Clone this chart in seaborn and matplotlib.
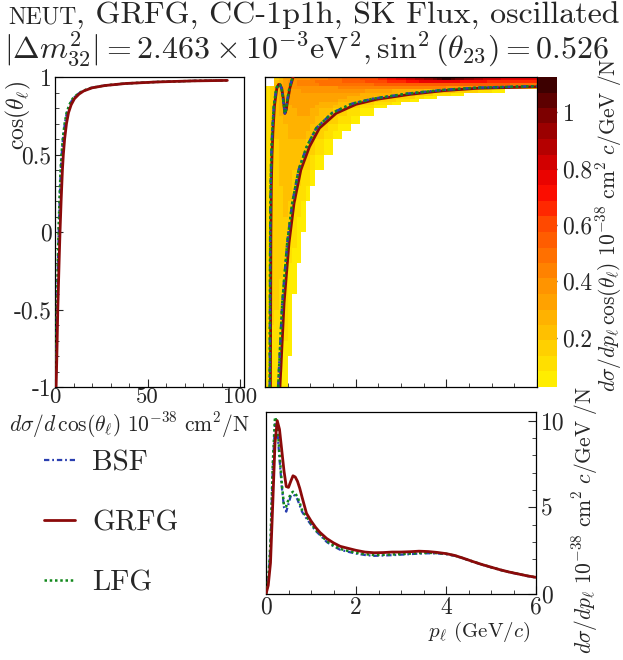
import numpy as np
import matplotlib
matplotlib.use("Agg")
import matplotlib.pyplot as plt
from matplotlib.colors import LinearSegmentedColormap, ListedColormap
from matplotlib.ticker import MultipleLocator
import seaborn as sns

# ---------------- values ----------------
# left panel: d sigma / d cos(theta) vs cos(theta)
cos_left = [-1.0, -0.8, -0.5, -0.2, 0.0, 0.2, 0.4, 0.5, 0.6, 0.7, 0.77, 0.82,
            0.86, 0.89, 0.91, 0.93, 0.945, 0.958, 0.968, 0.975, 0.978]
grfg_left = [0.6, 1.0, 1.5, 2.2, 2.7, 3.3, 4.0, 4.5, 5.2, 6.2, 7.3, 8.7,
             10.5, 13.0, 15.5, 20.0, 27.0, 38.0, 55.0, 75.0, 93.0]
bsf_left = [0.4, 0.7, 1.1, 1.6, 2.0, 2.5, 3.1, 3.6, 4.3, 5.3, 6.4, 7.8,
            9.6, 12.3, 15.0, 19.6, 26.7, 37.7, 54.7, 74.7, 92.8]
lfg_left = [0.3, 0.6, 1.0, 1.5, 1.9, 2.4, 3.0, 3.5, 4.2, 5.2, 6.3, 7.7,
            9.5, 12.2, 14.9, 19.5, 26.5, 37.5, 54.5, 74.5, 92.6]

# bottom panel: d sigma / d p vs p
p_mom = [0, 0.05, 0.1, 0.15, 0.2, 0.25, 0.3, 0.35, 0.4, 0.45, 0.5, 0.55, 0.6,
         0.65, 0.7, 0.75, 0.8, 0.9, 1.0, 1.1, 1.2, 1.35, 1.5, 1.65, 1.8, 2.0,
         2.2, 2.4, 2.6, 2.8, 3.0, 3.2, 3.4, 3.6, 3.8, 4.0, 4.2, 4.4, 4.6, 4.8,
         5.0, 5.2, 5.4, 5.6, 5.8, 6.0]
grfg_p = [0.0, 0.5, 1.8, 5.2, 8.7, 10.0, 9.5, 8.3, 7.1, 6.2, 6.15, 6.5, 6.82,
          6.75, 6.5, 6.1, 5.6, 4.65, 4.22, 3.85, 3.55, 3.2, 2.95, 2.75, 2.65,
          2.52, 2.42, 2.38, 2.39, 2.42, 2.42, 2.44, 2.47, 2.45, 2.4, 2.33,
          2.22, 2.05, 1.87, 1.7, 1.55, 1.4, 1.27, 1.16, 1.05, 0.96]
bsf_p = [0.0, 0.7, 2.8, 7.2, 9.8, 9.5, 7.8, 6.2, 5.0, 4.75, 5.2, 5.65, 5.75,
         5.65, 5.45, 5.1, 4.75, 4.35, 4.0, 3.65, 3.4, 3.0, 2.75, 2.55, 2.45,
         2.33, 2.25, 2.2, 2.22, 2.24, 2.27, 2.3, 2.33, 2.35, 2.34, 2.3, 2.2,
         2.04, 1.86, 1.69, 1.54, 1.39, 1.26, 1.15, 1.04, 0.95]
lfg_p = [0.0, 0.8, 3.0, 7.5, 10.2, 9.9, 8.1, 6.4, 5.1, 5.05, 5.45, 5.8, 5.9,
         5.8, 5.6, 5.25, 4.85, 4.45, 4.08, 3.7, 3.45, 3.05, 2.8, 2.6, 2.5,
         2.38, 2.3, 2.25, 2.26, 2.28, 2.3, 2.33, 2.36, 2.38, 2.36, 2.32, 2.21,
         2.05, 1.87, 1.7, 1.55, 1.4, 1.27, 1.16, 1.05, 0.96]

# ridge curves drawn on the 2D map (p, cos)
grfg_ridgeA_p = [0.12, 0.125, 0.13, 0.14, 0.155, 0.175, 0.21, 0.26, 0.30, 0.335,
                 0.37, 0.40, 0.44, 0.47, 0.50, 0.55, 0.60, 0.62]
grfg_ridgeA_c = [-1.0, -0.5, 0.0, 0.3, 0.5, 0.65, 0.817, 0.926, 0.952, 0.95,
                 0.925, 0.87, 0.765, 0.79, 0.85, 0.93, 0.98, 1.0]
bsf_ridgeA_p = [0.105, 0.11, 0.115, 0.125, 0.14, 0.16, 0.195, 0.25, 0.29, 0.33,
                0.365, 0.395, 0.435, 0.465, 0.49, 0.54, 0.59, 0.61]
bsf_ridgeA_c = grfg_ridgeA_c
lfg_ridgeA_p = bsf_ridgeA_p
lfg_ridgeA_c = grfg_ridgeA_c

grfg_ridgeB_p = [0.33, 0.42, 0.53, 0.64, 0.79, 0.98, 1.2, 1.57, 2.01, 2.46,
                 3.2, 3.94, 4.68, 6.0]
grfg_ridgeB_c = [-1.0, -0.46, -0.07, 0.185, 0.40, 0.55, 0.67, 0.766, 0.824,
                 0.856, 0.888, 0.912, 0.927, 0.937]
bsf_ridgeB_p = [0.29, 0.38, 0.49, 0.60, 0.74, 0.92, 1.13, 1.48, 1.92, 2.38,
                3.12, 3.9, 4.68, 6.0]
bsf_ridgeB_c = [-1.0, -0.46, -0.07, 0.185, 0.40, 0.55, 0.67, 0.768, 0.828,
                0.86, 0.892, 0.916, 0.931, 0.941]
lfg_ridgeB_p = bsf_ridgeB_p
lfg_ridgeB_c = bsf_ridgeB_c

# 2D map: rows of colour levels (1..20, '.' = empty), bottom row first,
# one character per 0.1 GeV/c bin in p
p_edges = np.linspace(0, 6, 61)
cos_edges = [-1.0, -0.9, -0.8, -0.7, -0.6, -0.5, -0.4, -0.3, -0.2, -0.1, 0.0,
             0.1, 0.2, 0.3, 0.4, 0.5, 0.6, 0.65, 0.7, 0.75, 0.8, 0.82, 0.84,
             0.86, 0.88, 0.9, 0.92, 0.94, 0.96, 0.98, 1.0]
heat_rows = [
    "22211",
    "22221",
    "222211",
    "222221",
    "232221",
    "233221",
    "2332211",
    "2333211",
    "23333211",
    "23333221",
    "233333211",
    "233343221",
    "2333443221",
    "23344433221",
    "2334444433211",
    "233444444332211",
    "2344455554" "4332211",
    "2344455555" "443322111",
    "2344555555" "5443332221" "1",
    "2345555666" "5544433322" "2111",
    "2345556666" "6555544433" "3222111",
    "2345566666" "6655554444" "3333222211",
    "2345566666" "6666665555" "5444433332" "2211",
    "2345566666" "6666666655" "5555444433" "33322111",
    "2345566666" "6666666666" "6555555554" "4443333222" "2111",
    "2345666677" "7777777777" "7766666655" "5555544444" "4433333222" "111",
    "2345667777" "7777778888" "8888888888" "8888888888" "7777777777" "6666554433",
    "..45677888" "8899999999" "9999aaaaaa" "aaaaaaaaaa" "aaaaaaaaaa" "aaaa999999",
    "..45677888" "8999999aaa" "aabbbbbccc" "cdddeeeeee" "eeeddddddc" "cccccccccc",
    "..34667777" "8888999aaa" "abbbbccdde" "effgghhijk" "kjiihhggff" "ffeeeeeeee",
]
level_chars = "123456789abcdefghijk"
cb_min, cb_max, n_levels = 0.025, 1.125, 20

# ---------------- style ----------------
sns.set_style("ticks")
plt.rcParams["font.family"] = ["cmr10", "DejaVu Serif"]
plt.rcParams["mathtext.fontset"] = "cm"
plt.rcParams["axes.formatter.use_mathtext"] = True
plt.rcParams["axes.unicode_minus"] = False
plt.rcParams["xtick.direction"] = "in"
plt.rcParams["ytick.direction"] = "in"
plt.rcParams["axes.linewidth"] = 0.9
plt.rcParams["axes.edgecolor"] = "black"

C_BSF, C_GRFG, C_LFG = "#2a3fb0", "#8b0a0a", "#11881b"
LS_BSF = (0, (2.4, 1.3, 0.8, 1.3))
LS_LFG = (0, (1.0, 1.1))
TICK_FS = 17

W, H = 623, 660
fig = plt.figure(figsize=(W / 100, H / 100), dpi=100)


def box(x0, y0, x1, y1):
    return [x0 / W, 1 - y1 / H, (x1 - x0) / W, (y1 - y0) / H]


ax_l = fig.add_axes(box(55, 77, 244, 387))
ax_h = fig.add_axes(box(265, 77, 537, 387))
cax = fig.add_axes(box(538, 77, 557, 387))
ax_b = fig.add_axes(box(266, 412, 536, 594))

# ---------------- left panel ----------------
sns.lineplot(x=bsf_left, y=cos_left, ax=ax_l, sort=False, estimator=None,
             color=C_BSF, linestyle=LS_BSF, lw=1.6, label="BSF", legend=False, zorder=3)
sns.lineplot(x=grfg_left, y=cos_left, ax=ax_l, sort=False, estimator=None,
             color=C_GRFG, lw=2.0, label="GRFG", legend=False, zorder=5)
sns.lineplot(x=lfg_left, y=cos_left, ax=ax_l, sort=False, estimator=None,
             color=C_LFG, linestyle=LS_LFG, lw=1.8, label="LFG", legend=False, zorder=4)
ax_l.set_xlim(0, 102)
ax_l.set_ylim(-1, 1)
ax_l.set_xticks([0, 50, 100], labels=["0", "50", "100"])
ax_l.set_yticks([-1, -0.5, 0, 0.5, 1], labels=["-1", "-0.5", "0", "0.5", "1"])
ax_l.xaxis.set_minor_locator(MultipleLocator(10))
ax_l.yaxis.set_minor_locator(MultipleLocator(0.1))
ax_l.tick_params(which="major", length=6, labelsize=TICK_FS, top=False, right=False)
ax_l.tick_params(which="minor", length=3, top=False, right=False)
ax_l.tick_params(axis="x", pad=0.5, labelsize=16.5)
ax_l.tick_params(axis="y", pad=2.5)
ax_l.set_xlabel("")
ax_l.set_ylabel("")

# ---------------- 2D map ----------------
n_p = len(p_edges) - 1
Z = np.full((len(heat_rows), n_p), np.nan)
for i, row in enumerate(heat_rows):
    for j, ch in enumerate(row[:n_p]):
        if ch != ".":
            lev = level_chars.index(ch) + 1
            Z[i, j] = cb_min + (lev - 0.5) * (cb_max - cb_min) / n_levels
Z = np.ma.masked_invalid(Z)

base = LinearSegmentedColormap.from_list("heat", [
    (0.0, (1.0, 0.93, 0.0)),
    (0.16, (1.0, 0.75, 0.0)),
    (0.34, (1.0, 0.55, 0.0)),
    (0.52, (1.0, 0.30, 0.0)),
    (0.62, (1.0, 0.06, 0.0)),
    (0.70, (0.90, 0.0, 0.0)),
    (0.886, (0.52, 0.0, 0.0)),
    (1.0, (0.24, 0.0, 0.0)),
])
cmap = ListedColormap(base(np.linspace(0, 1, n_levels)))
mesh = ax_h.pcolormesh(p_edges, cos_edges, Z, cmap=cmap, vmin=cb_min, vmax=cb_max,
                       shading="flat", antialiased=False, edgecolors="none")

for px, pc, col, ls, lw, zo in [
    (grfg_ridgeA_p, grfg_ridgeA_c, C_GRFG, "-", 2.0, 3),
    (grfg_ridgeB_p, grfg_ridgeB_c, C_GRFG, "-", 2.0, 3),
    (bsf_ridgeA_p, bsf_ridgeA_c, C_BSF, LS_BSF, 1.8, 4),
    (bsf_ridgeB_p, bsf_ridgeB_c, C_BSF, LS_BSF, 1.8, 4),
    (lfg_ridgeA_p, lfg_ridgeA_c, C_LFG, LS_LFG, 1.8, 5),
    (lfg_ridgeB_p, lfg_ridgeB_c, C_LFG, LS_LFG, 1.8, 5),
]:
    sns.lineplot(x=px, y=pc, ax=ax_h, sort=False, estimator=None, color=col,
                 linestyle=ls, lw=lw, legend=False, zorder=zo)
ax_h.set_xlim(0, 6)
ax_h.set_ylim(-1, 1)
ax_h.xaxis.set_major_locator(MultipleLocator(2))
ax_h.xaxis.set_minor_locator(MultipleLocator(0.5))
ax_h.yaxis.set_major_locator(MultipleLocator(0.5))
ax_h.yaxis.set_minor_locator(MultipleLocator(0.1))
ax_h.tick_params(which="both", labelleft=False, labelbottom=False, top=False, right=False)
ax_h.tick_params(which="major", length=6)
ax_h.tick_params(which="minor", length=3)
ax_h.set_xlabel("")
ax_h.set_ylabel("")

cb = fig.colorbar(mesh, cax=cax)
cb.set_ticks([0.2, 0.4, 0.6, 0.8, 1.0], labels=["0.2", "0.4", "0.6", "0.8", "1"])
cb.outline.set_visible(False)
cax.tick_params(direction="in", length=6, width=1, labelsize=TICK_FS, pad=4)
cax.minorticks_off()

# ---------------- bottom panel ----------------
sns.lineplot(x=p_mom, y=bsf_p, ax=ax_b, sort=False, estimator=None, color=C_BSF,
             linestyle=LS_BSF, lw=1.6, legend=False, zorder=2)
sns.lineplot(x=p_mom, y=lfg_p, ax=ax_b, sort=False, estimator=None, color=C_LFG,
             linestyle=LS_LFG, lw=1.8, legend=False, zorder=3)
sns.lineplot(x=p_mom, y=grfg_p, ax=ax_b, sort=False, estimator=None, color=C_GRFG,
             lw=2.0, legend=False, zorder=4)
ax_b.set_xlim(0, 6)
ax_b.set_ylim(0, 10.5)
ax_b.set_xticks([0, 2, 4, 6], labels=["0", "2", "4", "6"])
ax_b.set_yticks([0, 5, 10], labels=["0", "5", "10"])
ax_b.xaxis.set_minor_locator(MultipleLocator(0.5))
ax_b.yaxis.set_minor_locator(MultipleLocator(1))
ax_b.yaxis.tick_right()
ax_b.tick_params(which="both", left=False, top=False, right=True)
ax_b.tick_params(which="major", length=6, labelsize=TICK_FS)
ax_b.tick_params(axis="x", pad=2)
ax_b.tick_params(which="minor", length=3)
ax_b.set_xlabel("")
ax_b.set_ylabel("")

# ---------------- texts ----------------
fig.text(250 / W, 1 - 425 / H,
         r"$d\sigma/d\,\cos(\theta_{\ell})\ 10^{-38}\ \mathrm{cm}^{2}/\mathrm{N}$",
         fontsize=15.5, ha="right", va="center")
fig.text(18 / W, 1 - 81 / H, r"$\cos(\theta_{\ell})$", fontsize=17,
         rotation=90, ha="center", va="top")
fig.text(609 / W, 1 - 225 / H,
         r"$d\sigma/dp_{\ell}\,\cos(\theta_{\ell})\ 10^{-38}\ \mathrm{cm}^{2}\ c/\mathrm{GeV}\ /\mathrm{N}$",
         fontsize=15.5, rotation=90, ha="center", va="center")
fig.text(585 / W, 1 - 520 / H,
         r"$d\sigma/dp_{\ell}\ 10^{-38}\ \mathrm{cm}^{2}\ c/\mathrm{GeV}\ /\mathrm{N}$",
         fontsize=15.5, rotation=90, ha="center", va="center")
fig.text(530 / W, 1 - 632 / H, r"$p_{\ell}$ (GeV/$c$)", fontsize=15,
         ha="right", va="center")

renderer = fig.canvas.get_renderer()
t_sc = fig.text(8 / W, 1 - 24 / H, "NEUT", fontsize=17, va="baseline")
bb = t_sc.get_window_extent(renderer=renderer)
fig.text(bb.x1 / fig.bbox.width, 1 - 24 / H, ", GRFG, CC-1p1h, SK Flux, oscillated",
         fontsize=23, va="baseline")
fig.text(4 / W, 1 - 58 / H,
         r"$|\Delta m^{2}_{32}| = 2.463\times10^{-3}\mathrm{eV}^{2},\sin^{2}(\theta_{23}) = 0.526$",
         fontsize=23, va="baseline")

handles, labels = ax_l.get_legend_handles_labels()
fig.legend(handles, labels, loc="upper left", bbox_to_anchor=(44 / W, 1 - 450 / H),
           frameon=False, fontsize=21, handlelength=1.05, handletextpad=0.6,
           labelspacing=1.15, borderpad=0.0, borderaxespad=0.0)

fig.savefig("out.png", dpi=100)
